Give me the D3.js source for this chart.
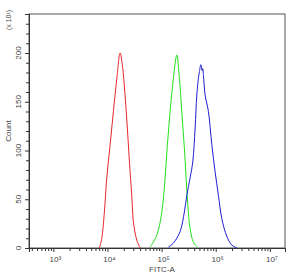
<!DOCTYPE html>
<html>
<head>
<meta charset="utf-8">
<script src="https://cdn.jsdelivr.net/npm/d3@7"></script>
<style>
  body { margin: 0; background: #fff; }
  svg { font-family: "Liberation Sans", Arial, sans-serif; }
  .axis text { fill: #444; font-size: 8px; }
</style>
</head>
<body>
<svg id="chart" width="294" height="275"></svg>
<script>
// FITC-A intensity vs count
const redFitc   = [7100, 7850, 8770, 9700, 11200, 12850, 14900, 17100, 18800, 21100, 23300, 25400, 28100, 30100, 34800, 40100];
const redCount  = [0, 10, 37, 72, 106, 140, 174, 200, 188, 157, 123, 89, 54, 27, 8, 0];

const greenFitc  = [61200, 81500, 100900, 116100, 127900, 143500, 165200, 191000, 213300, 236000, 260600, 283800, 304800, 336500, 387300, 459200];
const greenCount = [1, 13, 37, 72, 106, 140, 174, 198, 174, 140, 106, 72, 44, 20, 6, 1];

const blueFitc  = [133700, 165200, 219800, 263600, 292400, 336500, 377600, 415900, 447700, 478600, 500000, 530900, 560000, 575000, 592900, 636800, 732800, 847200, 975000, 1122000, 1297000, 1603000, 1986000, 2455000];
const blueCount = [1, 5, 17, 37, 54, 72, 89, 123, 157, 174, 181, 188, 182, 184, 177, 157, 140, 106, 78, 54, 30, 12, 3, 0];

const xDecades = [1e3, 1e4, 1e5, 1e6, 1e7];
const yTicks = [0, 50, 100, 150, 200];

const series = [
  {color: "#e8262b", x: redFitc, y: redCount},
  {color: "#22e01c", x: greenFitc, y: greenCount},
  {color: "#1e1ed2", x: blueFitc, y: blueCount}
];

const margin = {top: 14, right: 9, bottom: 27, left: 29};
const width = 294 - margin.left - margin.right;
const height = 275 - margin.top - margin.bottom;

const svg = d3.select("#chart");
const chart = svg.append("g").attr("transform", "translate(" + margin.left + "," + margin.top + ")");

const x = d3.scaleLog().domain([Math.pow(10, 2.55), Math.pow(10, 7.28)]).range([0, width]);
const y = d3.scaleLinear().domain([0, 240]).range([height, 0]);

// frame
chart.append("rect")
  .attr("width", width).attr("height", height)
  .attr("fill", "none").attr("stroke", "#555").attr("stroke-width", 1);

// x axis: minor ticks then decades
const xMinor = [];
for (let d = 100; d < 1e8; d *= 10) {
  for (let k = 2; k <= 9; k++) {
    const v = d * k;
    if (v >= x.domain()[0] && v <= x.domain()[1]) xMinor.push(v);
  }
}
const xg = chart.append("g").attr("class", "x axis").attr("transform", "translate(0," + height + ")");
xg.call(d3.axisBottom(x).tickValues(xMinor).tickSize(3).tickFormat(""));
xg.append("g").call(d3.axisBottom(x).tickValues(xDecades).tickSize(4).tickFormat(""));
xg.selectAll(".domain").attr("stroke", "#333");
xg.selectAll("line").attr("stroke", "#333");

const sup = {3: "\u00b3", 4: "\u2074", 5: "\u2075", 6: "\u2076", 7: "\u2077"};
xg.selectAll("text.dec").data(xDecades).enter().append("text")
  .attr("class", "dec")
  .attr("x", d => x(d) + 2)
  .attr("y", 14)
  .attr("text-anchor", "middle")
  .text(d => "10" + sup[Math.round(Math.log10(d))]);

// y axis
const yMinor = d3.range(0, 241, 10).filter(v => v % 50 !== 0);
const yg = chart.append("g").attr("class", "y axis");
yg.call(d3.axisLeft(y).tickValues(yMinor).tickSize(3).tickFormat(""));
yg.append("g").call(d3.axisLeft(y).tickValues(yTicks).tickSize(4).tickFormat(""));
yg.selectAll(".domain").attr("stroke", "#333");
yg.selectAll("line").attr("stroke", "#333");
yg.selectAll("text.yl").data(yTicks).enter().append("text")
  .attr("class", "yl")
  .attr("transform", d => "translate(-8," + y(d) + ") rotate(-90)")
  .attr("text-anchor", "middle")
  .text(d => d);

// titles
svg.append("text")
  .attr("transform", "translate(11,131) rotate(-90)")
  .attr("text-anchor", "middle")
  .attr("font-size", 8).attr("fill", "#444")
  .text("Count");
svg.append("text")
  .attr("transform", "translate(11,20) rotate(-90)")
  .attr("text-anchor", "middle")
  .attr("font-size", 7).attr("fill", "#444")
  .text("(x 10\u00b9)");
svg.append("text")
  .attr("x", 162).attr("y", 272)
  .attr("text-anchor", "middle")
  .attr("font-size", 8).attr("fill", "#444")
  .text("FITC-A");

// histograms
const line = d3.line()
  .x(d => x(d[0]))
  .y(d => y(d[1]))
  .curve(d3.curveCatmullRom.alpha(0.5));

series.forEach(s => {
  chart.append("path")
    .datum(s.x.map((v, i) => [v, s.y[i]]))
    .attr("fill", "none")
    .attr("stroke", s.color)
    .attr("stroke-width", 1)
    .attr("d", line);
});
</script>
</body>
</html>
